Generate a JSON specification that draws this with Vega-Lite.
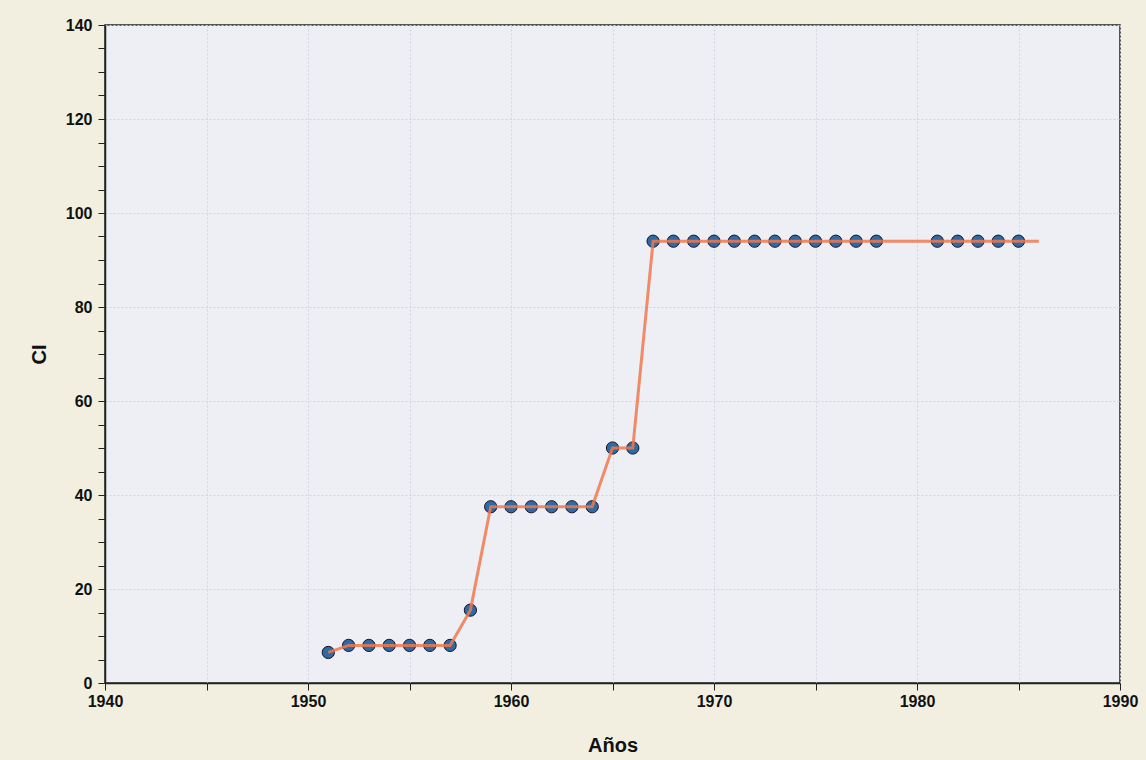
{
  "$schema": "https://vega.github.io/schema/vega-lite/v6.json",
  "width": 1015,
  "height": 658,
  "autosize": "none",
  "padding": {"left": 105, "top": 25, "right": 26, "bottom": 77},
  "background": "#f2efe0",
  "config": {
    "view": {"fill": "#eeeff5", "stroke": "#222222", "strokeWidth": 1.5},
    "axis": {
      "labelFont": "Liberation Sans",
      "labelFontWeight": "bold",
      "labelFontSize": 16,
      "labelColor": "#111111",
      "labelFlush": false,
      "titleFont": "Liberation Sans",
      "titleFontWeight": "bold",
      "titleFontSize": 20,
      "titleColor": "#111111",
      "domainColor": "#222222",
      "domainWidth": 1.5,
      "tickColor": "#222222",
      "tickSize": 7,
      "gridColor": "#d4d4de",
      "gridDash": [2, 2],
      "gridWidth": 1
    }
  },
  "data": {
    "values": [
      {"year": 1951, "CI": 6.5, "observed": true},
      {"year": 1952, "CI": 8, "observed": true},
      {"year": 1953, "CI": 8, "observed": true},
      {"year": 1954, "CI": 8, "observed": true},
      {"year": 1955, "CI": 8, "observed": true},
      {"year": 1956, "CI": 8, "observed": true},
      {"year": 1957, "CI": 8, "observed": true},
      {"year": 1958, "CI": 15.5, "observed": true},
      {"year": 1959, "CI": 37.5, "observed": true},
      {"year": 1960, "CI": 37.5, "observed": true},
      {"year": 1961, "CI": 37.5, "observed": true},
      {"year": 1962, "CI": 37.5, "observed": true},
      {"year": 1963, "CI": 37.5, "observed": true},
      {"year": 1964, "CI": 37.5, "observed": true},
      {"year": 1965, "CI": 50, "observed": true},
      {"year": 1966, "CI": 50, "observed": true},
      {"year": 1967, "CI": 94, "observed": true},
      {"year": 1968, "CI": 94, "observed": true},
      {"year": 1969, "CI": 94, "observed": true},
      {"year": 1970, "CI": 94, "observed": true},
      {"year": 1971, "CI": 94, "observed": true},
      {"year": 1972, "CI": 94, "observed": true},
      {"year": 1973, "CI": 94, "observed": true},
      {"year": 1974, "CI": 94, "observed": true},
      {"year": 1975, "CI": 94, "observed": true},
      {"year": 1976, "CI": 94, "observed": true},
      {"year": 1977, "CI": 94, "observed": true},
      {"year": 1978, "CI": 94, "observed": true},
      {"year": 1979, "CI": 94, "observed": false},
      {"year": 1980, "CI": 94, "observed": false},
      {"year": 1981, "CI": 94, "observed": true},
      {"year": 1982, "CI": 94, "observed": true},
      {"year": 1983, "CI": 94, "observed": true},
      {"year": 1984, "CI": 94, "observed": true},
      {"year": 1985, "CI": 94, "observed": true},
      {"year": 1986, "CI": 94, "observed": false}
    ]
  },
  "encoding": {
    "x": {
      "field": "year",
      "type": "quantitative",
      "scale": {"domain": [1940, 1990], "nice": false, "zero": false},
      "axis": {
        "title": "Años",
        "values": [1940, 1945, 1950, 1955, 1960, 1965, 1970, 1975, 1980, 1985, 1990],
        "labelExpr": "datum.value % 10 === 0 ? datum.value : ''",
        "labelPadding": 3,
        "titlePadding": 26,
        "grid": true
      }
    },
    "y": {
      "field": "CI",
      "type": "quantitative",
      "scale": {"domain": [0, 140], "nice": false},
      "axis": {
        "title": "CI",
        "values": [0, 5, 10, 15, 20, 25, 30, 35, 40, 45, 50, 55, 60, 65, 70, 75, 80, 85, 90, 95, 100, 105, 110, 115, 120, 125, 130, 135, 140],
        "labelExpr": "datum.value % 20 === 0 ? datum.value : ''",
        "labelPadding": 6,
        "titlePadding": 16,
        "grid": true,
        "gridOpacity": {"condition": {"test": "datum.value % 20 === 0", "value": 1}, "value": 0}
      }
    }
  },
  "layer": [
    {
      "transform": [{"filter": "datum.observed"}],
      "mark": {"type": "point", "shape": "circle", "filled": true, "size": 150, "color": "#2f6aa3", "stroke": "#15152a", "strokeWidth": 1, "opacity": 1}
    },
    {
      "mark": {"type": "line", "color": "#f0784e", "strokeWidth": 3, "opacity": 0.85}
    }
  ]
}
